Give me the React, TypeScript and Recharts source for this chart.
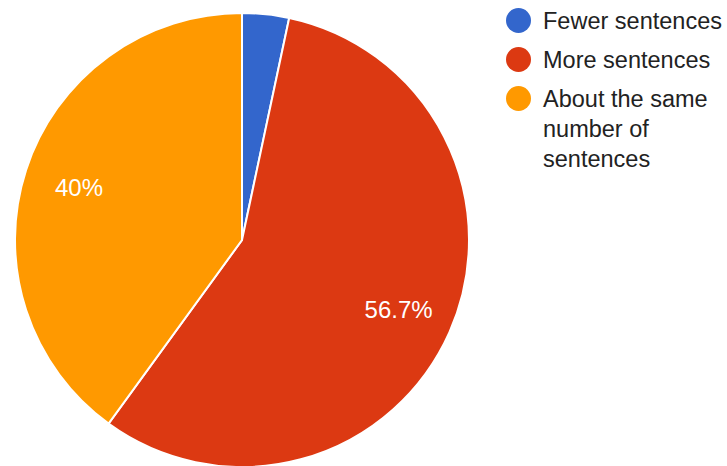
import { PieChart, Pie, Cell, Legend } from "recharts";

const categories = ["Fewer sentences", "More sentences", "About the same number of sentences"];
const responses = [1, 17, 12];
const colors = ["#3366cc", "#dc3912", "#ff9900"];

const data = categories.map((name, i) => ({ name, value: responses[i] }));

const RAD = Math.PI / 180;

function SliceLabel(props: any) {
  const { cx, cy, midAngle, outerRadius, percent } = props;
  if (percent < 0.05) return null;
  const r = outerRadius * 0.755;
  const x = cx + r * Math.cos(-midAngle * RAD);
  const y = cy + r * Math.sin(-midAngle * RAD);
  const txt = (percent * 100).toFixed(1).replace(/\.0$/, "") + "%";
  return (
    <text x={x} y={y} fill="#fff" fontSize={24} fontFamily="Liberation Sans, Arial, sans-serif"
      textAnchor="middle" dominantBaseline="central">
      {txt}
    </text>
  );
}

function LegendBox() {
  return (
    <div style={{ fontFamily: "Liberation Sans, Arial, sans-serif", fontSize: 23.5, color: "#222" }}>
      {categories.map((c, i) => (
        <div key={c} style={{ display: "flex", alignItems: "flex-start", marginBottom: 9 }}>
          <span style={{ width: 25, height: 25, borderRadius: "50%", background: colors[i], flex: "none", marginTop: 2, marginRight: 12 }} />
          <span style={{ lineHeight: "30px", width: 184 }}>{c}</span>
        </div>
      ))}
    </div>
  );
}

export default function App() {
  return (
    <div style={{ position: "fixed", top: 0, left: 0, background: "#fff" }}>
      <PieChart width={727} height={466} margin={{ top: 0, right: 0, bottom: 0, left: 0 }}>
        <Pie
          data={data}
          dataKey="value"
          nameKey="name"
          cx={242}
          cy={240}
          outerRadius={227}
          startAngle={90}
          endAngle={-270}
          stroke="#fff"
          strokeWidth={2}
          label={SliceLabel}
          labelLine={false}
          isAnimationActive={false}
        >
          {data.map((d, i) => <Cell key={d.name} fill={colors[i]} />)}
        </Pie>
        <Legend
          layout="vertical"
          verticalAlign="top"
          align="right"
          content={<LegendBox />}
          wrapperStyle={{ left: 506, top: 6, width: 221 }}
        />
      </PieChart>
    </div>
  );
}
